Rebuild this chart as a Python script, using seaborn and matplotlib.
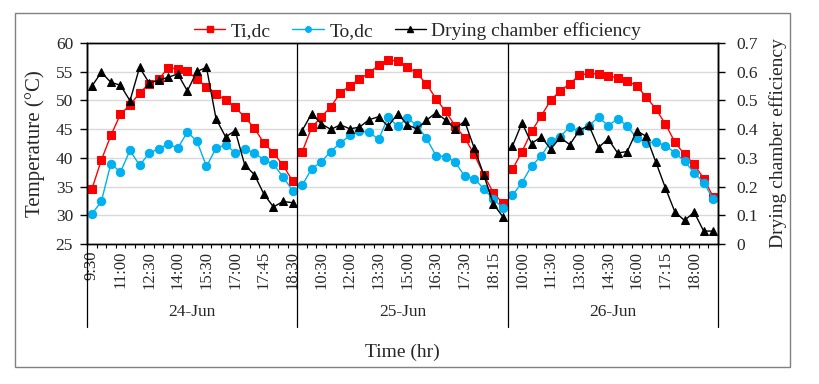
import numpy as np
import pandas as pd
import matplotlib
matplotlib.use("Agg")
import matplotlib.pyplot as plt
import seaborn as sns
from matplotlib.lines import Line2D
from matplotlib.patches import Rectangle

sns.set_theme(style="white")
plt.rcParams["font.family"] = ["Liberation Serif", "DejaVu Serif"]

# --- Data ---
days = ["24-Jun", "25-Jun", "26-Jun"]

times_24 = ["9:30", "10:00", "10:30", "11:00", "11:30", "12:00", "12:30", "13:00",
            "13:30", "14:00", "14:30", "15:00", "15:30", "16:00", "16:30", "17:00",
            "17:15", "17:30", "17:45", "18:00", "18:15", "18:30"]
times_25 = ["9:30", "10:00", "10:30", "11:00", "11:30", "12:00", "12:30", "13:00",
            "13:30", "14:00", "14:30", "15:00", "15:30", "16:00", "16:30", "16:45",
            "17:00", "17:30", "17:45", "18:00", "18:15", "18:30"]
times_26 = ["9:30", "10:00", "10:30", "11:00", "11:30", "12:00", "12:30", "13:00",
            "13:30", "14:00", "14:30", "15:00", "15:30", "16:00", "16:30", "17:00",
            "17:15", "17:30", "17:45", "18:00", "18:15", "18:30"]

ti_24 = [34.5, 39.6, 43.9, 47.6, 49.2, 51.3, 52.9, 53.7, 55.7, 55.5, 55.1,
         53.7, 52.4, 51.2, 50.0, 48.8, 47.1, 45.2, 42.6, 40.9, 38.7, 36.0]
ti_25 = [41.0, 45.3, 47.1, 48.9, 51.3, 52.6, 53.7, 54.8, 56.1, 57.1, 56.8,
         55.9, 54.7, 52.9, 50.3, 48.1, 45.6, 43.5, 40.6, 37.1, 33.9, 32.1]
ti_26 = [38.0, 41.1, 44.6, 47.3, 50.0, 51.7, 52.9, 54.4, 54.7, 54.6, 54.3,
         53.9, 53.4, 52.5, 50.6, 48.5, 45.9, 42.7, 40.6, 38.9, 36.4, 33.2]

to_24 = [30.2, 32.4, 39.0, 37.5, 41.3, 38.7, 40.8, 41.6, 42.4, 41.7, 44.5,
         42.9, 38.5, 41.7, 42.3, 40.9, 41.6, 40.8, 39.7, 38.9, 36.7, 34.3]
to_25 = [35.2, 38.1, 39.3, 41.1, 42.6, 43.9, 44.6, 44.5, 43.2, 47.1, 45.5,
         46.9, 45.7, 43.4, 40.4, 40.2, 39.3, 36.8, 36.4, 34.6, 32.8, 31.3]
to_26 = [33.5, 35.7, 38.6, 40.3, 42.9, 43.7, 45.4, 44.6, 45.6, 47.1, 45.6,
         46.8, 45.6, 43.4, 42.6, 42.8, 42.1, 40.9, 39.4, 37.4, 35.7, 32.8]

eff_24 = [0.549, 0.598, 0.563, 0.553, 0.499, 0.615, 0.561, 0.570, 0.581, 0.592, 0.533,
          0.601, 0.615, 0.436, 0.373, 0.395, 0.275, 0.242, 0.174, 0.129, 0.148, 0.144]
eff_25 = [0.395, 0.454, 0.419, 0.399, 0.415, 0.401, 0.407, 0.433, 0.443, 0.410, 0.454,
          0.415, 0.401, 0.431, 0.457, 0.432, 0.401, 0.428, 0.334, 0.241, 0.139, 0.095]
eff_26 = [0.341, 0.422, 0.350, 0.373, 0.331, 0.371, 0.346, 0.396, 0.413, 0.336, 0.366,
          0.317, 0.322, 0.394, 0.375, 0.285, 0.195, 0.111, 0.082, 0.111, 0.045, 0.045]

# --- Long-form table, one category slot per reading ---
times = [times_24, times_25, times_26]
tis = [ti_24, ti_25, ti_26]
tos = [to_24, to_25, to_26]
effs = [eff_24, eff_25, eff_26]

frames = []
for d, t, a, b, c in zip(days, times, tis, tos, effs):
    frames.append(pd.DataFrame({"day": d, "time": t, "Ti": a, "To": b, "eff": c}))
df = pd.concat(frames, ignore_index=True)
df["pos"] = np.arange(len(df)) + 0.5
n = len(df)
bounds = np.cumsum([0] + [len(t) for t in times])

RED = "#FF0000"
BLUE = "#00B0F0"

fig, ax = plt.subplots(figsize=(8.19, 3.84), dpi=100)
fig.subplots_adjust(left=0.1062, right=0.8767, top=0.888, bottom=0.3646)
ax2 = ax.twinx()

sns.lineplot(data=df, x="pos", y="Ti", units="day", estimator=None, ax=ax,
             color=RED, marker="s", markersize=5.5, markeredgecolor=RED,
             linewidth=1, legend=False, zorder=3)
sns.lineplot(data=df, x="pos", y="To", units="day", estimator=None, ax=ax,
             color=BLUE, marker="o", markersize=6, markeredgecolor=BLUE,
             linewidth=1, legend=False, zorder=3)
sns.lineplot(data=df, x="pos", y="eff", units="day", estimator=None, ax=ax2,
             color="black", marker="^", markersize=6, markeredgecolor="black",
             linewidth=1, legend=False, zorder=3)

# axes ranges and ticks
ax.set_xlim(0, n)
ax.set_ylim(25, 60)
ax.set_yticks(np.arange(25, 61, 5))
ax2.set_ylim(0, 0.7)
ax2.set_yticks(np.arange(0, 0.71, 0.1))
ax2.set_yticklabels(["0"] + [f"{v:.1f}" for v in np.arange(0.1, 0.71, 0.1)])

ax.set_xticks(df["pos"][::3])
ax.set_xticklabels(df["time"][::3], rotation=90, fontsize=12)
ax.set_xticks(np.arange(0, n + 1), minor=True)
ax.tick_params(axis="x", which="major", length=0, pad=5)
ax.tick_params(axis="x", which="minor", length=3, width=0.8, color="black",
               direction="out", bottom=True)
ax.tick_params(axis="y", length=5, width=1, color="black", labelsize=12.5,
               left=True, pad=5)
ax2.tick_params(axis="y", length=5, width=1, color="black", labelsize=12.5,
                right=True, pad=8)

ax.yaxis.grid(True, color="#D9D9D9", linewidth=1)
ax.set_axisbelow(True)
ax.set_xlabel("")
ax.set_ylabel("Temperature (°C)", fontsize=15, labelpad=8)
ax2.set_ylabel("Drying chamber efficiency", fontsize=14, labelpad=8)

for a in (ax, ax2):
    for s in a.spines.values():
        s.set_color("black")
        s.set_linewidth(1)

# day separators and group labels below the axis
for b in bounds:
    ax.plot([b, b], [1, -0.413], transform=ax.get_xaxis_transform(),
            color="black", linewidth=0.9, clip_on=False, zorder=4)
for d, lo, hi in zip(days, bounds[:-1], bounds[1:]):
    ax.text((lo + hi) / 2, -0.338, d, transform=ax.get_xaxis_transform(),
            ha="center", va="center", fontsize=12.5)
ax.text(0.5, -0.54, "Time (hr)", transform=ax.transAxes, ha="center",
        va="center", fontsize=14)

handles = [
    Line2D([], [], color=RED, marker="s", markersize=5, linewidth=1, label="Ti,dc"),
    Line2D([], [], color=BLUE, marker="o", markersize=4, linewidth=1, label="To,dc"),
    Line2D([], [], color="black", marker="^", markersize=4, linewidth=1,
           label="Drying chamber efficiency"),
]
fig.legend(handles=handles, loc="center", bbox_to_anchor=(0.51, 0.919), ncol=3,
           frameon=False, fontsize=14, handlelength=1.6, columnspacing=1.1,
           handletextpad=0.3)

# outer chart frame
fig.patches.append(Rectangle((0.0183, 0.0443), 0.9463, 0.9219,
                             transform=fig.transFigure, fill=False,
                             edgecolor="#808080", linewidth=1))

plt.savefig("out.png", dpi=100)
